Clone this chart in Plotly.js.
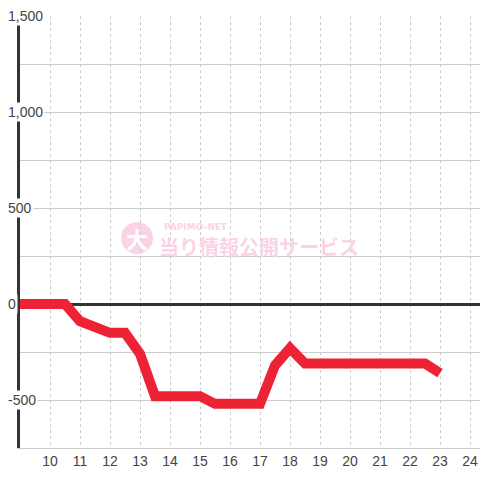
<!DOCTYPE html>
<html>
<head>
<meta charset="utf-8">
<script src="https://cdn.plot.ly/plotly-3.0.1.min.js"></script>
<style>html,body{margin:0;padding:0;background:#fff;}#chart{width:480px;height:480px;}</style>
</head>
<body>
<div id="chart"></div>
<script>
const hours = [9, 9.5, 10, 10.5, 11, 11.5, 12, 12.5, 13, 13.5, 14, 14.5, 15, 15.5, 16, 16.5, 17, 17.5, 18, 18.5, 19, 19.5, 20, 20.5, 21, 21.5, 22, 22.5, 23];
const balance = [0, 0, 0, 0, -90, -120, -150, -150, -260, -480, -480, -480, -480, -520, -520, -520, -520, -320, -230, -310, -310, -310, -310, -310, -310, -310, -310, -310, -360];
const xTickVals = [10, 11, 12, 13, 14, 15, 16, 17, 18, 19, 20, 21, 22, 23, 24];
const yTickVals = [1500, 1000, 500, 0, -500];
const yTickText = ['1,500', '1,000', '500', '0', '-500'];

const annotations = yTickVals.map((v, i) => ({
  xref: 'paper', yref: 'y', x: -14 / 460, y: v, xanchor: 'left', yanchor: 'middle',
  text: yTickText[i], showarrow: false, bgcolor: '#ffffff', borderpad: 1,
  font: {family: 'Liberation Sans, Arial, sans-serif', size: 14, color: '#444'}
}));
annotations.push({
  xref: 'paper', yref: 'paper', x: (162 - 20) / 460, y: (448 - 227) / 432, xanchor: 'left', yanchor: 'middle',
  text: '<b>PAPIMO-NET</b>', showarrow: false,
  font: {family: 'DejaVu Sans, sans-serif', size: 9, color: '#fbd3e6'}
});
annotations.push({
  xref: 'paper', yref: 'paper', x: (157 - 20) / 460, y: (448 - 246) / 432, xanchor: 'left', yanchor: 'middle',
  text: '<b>当り情報公開サービス</b>', showarrow: false,
  font: {family: 'Noto Sans CJK JP, sans-serif', size: 20, color: '#fbd3e6'}
});
annotations.push({
  xref: 'paper', yref: 'paper', x: (137 - 20) / 460, y: (448 - 238) / 432, xanchor: 'center', yanchor: 'middle',
  text: '<b>大</b>', showarrow: false,
  font: {family: 'Noto Sans CJK JP, sans-serif', size: 22, color: '#ffffff'}
});

const data = [{
  x: hours, y: balance, type: 'scatter', mode: 'lines',
  line: {color: '#ee2235', width: 10},
  hoverinfo: 'skip'
}];

const layout = {
  width: 480, height: 480,
  margin: {l: 20, r: 0, t: 16, b: 32},
  paper_bgcolor: '#ffffff', plot_bgcolor: '#ffffff',
  showlegend: false,
  xaxis: {
    range: [9, 24.333], tickvals: xTickVals, ticks: '',
    showgrid: true, gridcolor: '#cccccc', gridwidth: 1, griddash: 'dot',
    showline: true, linecolor: '#cccccc', linewidth: 1,
    zeroline: false,
    tickfont: {family: 'Liberation Sans, Arial, sans-serif', size: 14, color: '#444'}
  },
  yaxis: {
    range: [-750, 1500], dtick: 250, tick0: 0, ticks: '',
    showticklabels: false,
    showgrid: true, gridcolor: '#cccccc', gridwidth: 1,
    showline: true, linecolor: '#333333', linewidth: 3,
    zeroline: true, zerolinecolor: '#333333', zerolinewidth: 3
  },
  shapes: [{
    type: 'circle', xref: 'paper', yref: 'paper', layer: 'below',
    x0: (121 - 20) / 460, x1: (153 - 20) / 460, y0: (448 - 254) / 432, y1: (448 - 222) / 432,
    fillcolor: '#fbd3e6', line: {width: 0}
  }],
  annotations: annotations
};

Plotly.newPlot('chart', data, layout, {staticPlot: true});
</script>
</body>
</html>
